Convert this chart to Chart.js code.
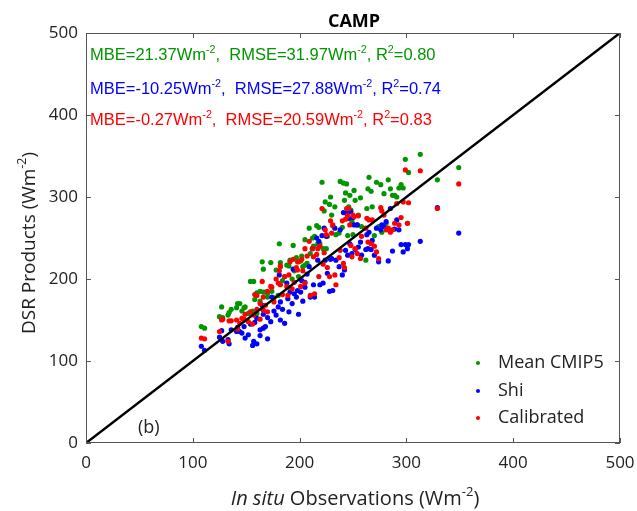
<!DOCTYPE html>
<html>
<head>
<meta charset="utf-8">
<script src="https://cdn.jsdelivr.net/npm/chart.js@4.4.1/dist/chart.umd.min.js"></script>
<style>
  html, body { margin: 0; padding: 0; background: #fff; }
  #wrap { width: 637px; height: 511px; }
</style>
</head>
<body>
<div id="wrap"><canvas id="chart" width="637" height="511"></canvas></div>
<script>
// In situ observations (Wm-2), one value per site-month
const obs = [
  108, 111, 125, 127, 128, 133, 134, 136, 141, 142,
  144, 146, 148, 149, 152, 154, 156, 157, 158, 160,
  160, 163, 163, 165, 166, 166, 168, 170, 170, 173,
  174, 176, 178, 180, 181, 182, 182, 184, 186, 188,
  189, 190, 191, 193, 194, 195, 197, 198, 199, 201,
  202, 203, 205, 205, 207, 209, 210, 212, 213, 214,
  216, 217, 218, 219, 221, 222, 223, 224, 225, 226,
  228, 229, 230, 231, 233, 234, 237, 238, 240, 241,
  242, 243, 244, 245, 246, 247, 248, 249, 250, 251,
  252, 254, 255, 257, 258, 262, 263, 264, 265, 267,
  268, 270, 272, 274, 276, 277, 279, 281, 283, 285,
  287, 289, 291, 293, 295, 297, 299, 301, 302, 313,
  329, 349
];
// DSR products at the same points
const cmip5 = [
  142, 140, 154, 166, 153, 156, 159, 163, 165, 170,
  170, 161, 165, 166, 158, 197, 161, 197, 175, 183,
  158, 185, 173, 221, 212, 184, 184, 178, 183, 220,
  185, 177, 211, 180, 243, 220, 215, 198, 203, 217,
  190, 216, 223, 200, 241, 210, 226, 221, 203, 222,
  228, 215, 248, 217, 219, 262, 231, 250, 240, 252,
  265, 243, 263, 243, 318, 237, 283, 294, 237, 252,
  291, 300, 278, 265, 288, 254, 256, 319, 263, 317,
  296, 305, 316, 253, 288, 302, 284, 270, 254, 308,
  296, 266, 278, 299, 264, 223, 286, 310, 324, 307,
  288, 253, 318, 264, 315, 257, 304, 268, 321, 310,
  302, 302, 300, 311, 315, 311, 346, 268, 330, 352,
  321, 336
];
const shi = [
  118, 113, 129, 137, 124, 126, 121, 138, 136, 141,
  136, 134, 142, 128, 132, 145, 119, 124, 147, 121,
  152, 138, 131, 168, 140, 157, 142, 153, 127, 148,
  178, 161, 156, 166, 205, 172, 150, 163, 146, 195,
  176, 160, 184, 170, 212, 182, 178, 186, 157, 184,
  198, 173, 196, 190, 206, 215, 178, 237, 193, 178,
  250, 223, 246, 193, 253, 195, 262, 223, 252, 207,
  185, 224, 225, 186, 262, 223, 215, 260, 205, 281,
  211, 235, 280, 229, 274, 243, 282, 231, 275, 266,
  236, 266, 239, 245, 229, 236, 254, 237, 257, 236,
  247, 229, 262, 221, 260, 266, 264, 270, 222, 286,
  234, 261, 272, 260, 242, 233, 242, 237, 242, 246,
  287, 256
];
const calibrated = [
  128, 127, 136, 150, 151, 124, 149, 149, 150, 139,
  146, 152, 151, 157, 148, 160, 145, 156, 181, 180,
  163, 170, 151, 197, 178, 162, 168, 185, 160, 191,
  190, 172, 200, 195, 210, 216, 193, 181, 203, 191,
  180, 205, 221, 188, 224, 196, 214, 211, 221, 191,
  224, 210, 237, 195, 228, 246, 180, 237, 227, 182,
  230, 237, 203, 240, 286, 218, 232, 260, 254, 214,
  203, 271, 256, 266, 205, 193, 226, 235, 271, 219,
  214, 273, 286, 277, 286, 266, 241, 227, 278, 276,
  237, 231, 277, 225, 252, 262, 274, 245, 272, 243,
  272, 240, 233, 225, 287, 283, 278, 260, 262, 257,
  260, 268, 292, 266, 275, 294, 333, 268, 293, 332,
  286, 316
];

const axisTicks = [0, 100, 200, 300, 400, 500];
const seriesNames = ["Mean CMIP5", "Shi", "Calibrated"];
const seriesColors = ["rgb(0,150,0)", "rgb(0,0,255)", "rgb(255,0,0)"];

// text pieces: [text, superscript?, italic?]
const statsLines = [
  [["MBE=21.37Wm"], ["-2", 1], [",  RMSE=31.97Wm"], ["-2", 1], [", R"], ["2", 1], ["=0.80"]],
  [["MBE=-10.25Wm"], ["-2", 1], [",  RMSE=27.88Wm"], ["-2", 1], [", R"], ["2", 1], ["=0.74"]],
  [["MBE=-0.27Wm"], ["-2", 1], [",  RMSE=20.59Wm"], ["-2", 1], [", R"], ["2", 1], ["=0.83"]]
];
const chartTitle = "CAMP";
const xTitle = [["In situ", 0, 1], [" Observations (Wm"], ["-2", 1], [")"]];
const yTitle = [["DSR Products (Wm"], ["-2", 1], [")"]];
const panelLabel = "(b)";

const FONT = "'Open Sans', 'DejaVu Sans', sans-serif";
const STATS_FONT = "'Liberation Sans', Arial, sans-serif";

function toPoints(ys) {
  return obs.map((x, i) => ({ x: x, y: ys[i] }));
}

function setFont(ctx, size, family, sup, italic, bold) {
  const s = sup ? size * 0.65 : size;
  ctx.font = (italic ? "italic " : "") + (bold ? "bold " : "") + s + "px " + family;
}

function partsWidth(ctx, parts, size, family) {
  let w = 0;
  parts.forEach((p) => {
    setFont(ctx, size, family, p[1], p[2]);
    w += ctx.measureText(p[0]).width;
  });
  return w;
}

function drawParts(ctx, parts, x, y, size, family) {
  ctx.textBaseline = "alphabetic";
  ctx.textAlign = "left";
  parts.forEach((p) => {
    setFont(ctx, size, family, p[1], p[2]);
    ctx.fillText(p[0], x, p[1] ? y - size * 0.45 : y);
    x += ctx.measureText(p[0]).width;
  });
}

const decorations = {
  id: "decorations",
  afterDatasetsDraw(chart) {
    const ctx = chart.ctx;
    const a = chart.chartArea;
    const xs = chart.scales.x;
    const ys = chart.scales.y;
    ctx.save();
    ctx.strokeStyle = "#555";
    ctx.lineWidth = 1;
    ctx.strokeRect(a.left + 0.5, a.top + 0.5, a.right - a.left - 1, a.bottom - a.top - 1);
    ctx.beginPath();
    axisTicks.forEach((v) => {
      const px = Math.round(xs.getPixelForValue(v)) + 0.5;
      ctx.moveTo(px, a.bottom); ctx.lineTo(px, a.bottom - 5);
      ctx.moveTo(px, a.top); ctx.lineTo(px, a.top + 5);
      const py = Math.round(ys.getPixelForValue(v)) + 0.5;
      ctx.moveTo(a.left, py); ctx.lineTo(a.left + 5, py);
      ctx.moveTo(a.right, py); ctx.lineTo(a.right - 5, py);
    });
    ctx.stroke();
    ctx.restore();
  },
  afterDraw(chart) {
    const ctx = chart.ctx;
    const a = chart.chartArea;
    const cx = (a.left + a.right) / 2;
    ctx.save();
    ctx.fillStyle = "#000";

    // title
    ctx.font = "bold 18px " + FONT;
    ctx.textAlign = "center";
    ctx.textBaseline = "alphabetic";
    ctx.fillText(chartTitle, cx + 1, 27);

    // statistics
    statsLines.forEach((line, i) => {
      ctx.fillStyle = seriesColors[i];
      drawParts(ctx, line, 90, [60, 94, 125][i], 16.5, STATS_FONT);
    });

    // axis titles
    ctx.fillStyle = "#222";
    const xw = partsWidth(ctx, xTitle, 20, FONT);
    drawParts(ctx, xTitle, cx + 2 - xw / 2, 505, 20, FONT);
    const yw = partsWidth(ctx, yTitle, 19, FONT);
    ctx.save();
    ctx.translate(35, 243);
    ctx.rotate(-Math.PI / 2);
    drawParts(ctx, yTitle, -yw / 2, 0, 19, FONT);
    ctx.restore();

    // panel label
    ctx.font = "18px " + FONT;
    ctx.textAlign = "left";
    ctx.textBaseline = "middle";
    ctx.fillText(panelLabel, 138, 428);

    // legend
    seriesNames.forEach((name, i) => {
      const y = [363, 391, 418][i];
      ctx.fillStyle = seriesColors[i];
      ctx.beginPath();
      ctx.arc(478, y, 2, 0, Math.PI * 2);
      ctx.fill();
      ctx.fillStyle = "#222";
      ctx.font = "18px " + FONT;
      ctx.textBaseline = "middle";
      ctx.fillText(name, 498, y);
    });
    ctx.restore();
  }
};

const ctx = document.getElementById("chart").getContext("2d");
new Chart(ctx, {
  type: "scatter",
  data: {
    datasets: [
      {
        label: "1:1",
        data: [{ x: axisTicks[0], y: axisTicks[0] }, { x: axisTicks[5], y: axisTicks[5] }],
        showLine: true,
        borderColor: "#000",
        borderWidth: 2.5,
        pointRadius: 0,
        order: 0
      },
      {
        label: seriesNames[2],
        data: toPoints(calibrated),
        backgroundColor: seriesColors[2],
        borderWidth: 0,
        pointRadius: 2.6,
        order: 1
      },
      {
        label: seriesNames[1],
        data: toPoints(shi),
        backgroundColor: seriesColors[1],
        borderWidth: 0,
        pointRadius: 2.6,
        order: 2
      },
      {
        label: seriesNames[0],
        data: toPoints(cmip5),
        backgroundColor: seriesColors[0],
        borderWidth: 0,
        pointRadius: 2.6,
        order: 3
      }
    ]
  },
  options: {
    responsive: false,
    animation: false,
    layout: { padding: { left: 0, top: 33, right: 17, bottom: 0 } },
    plugins: { legend: { display: false }, tooltip: { enabled: false } },
    scales: {
      x: {
        type: "linear",
        min: 0,
        max: 500,
        ticks: { stepSize: 100, font: { family: FONT, size: 17 }, color: "#222", padding: 10 },
        grid: { display: false, drawTicks: false },
        border: { display: false },
        afterFit: (s) => { s.height = 68; s.paddingLeft = 0; s.paddingRight = 0; }
      },
      y: {
        type: "linear",
        min: 0,
        max: 500,
        ticks: { stepSize: 100, font: { family: FONT, size: 17 }, color: "#222", padding: 8 },
        grid: { display: false, drawTicks: false },
        border: { display: false },
        afterFit: (s) => { s.width = 86; s.paddingTop = 0; s.paddingBottom = 0; }
      }
    }
  },
  plugins: [decorations]
});
</script>
</body>
</html>
